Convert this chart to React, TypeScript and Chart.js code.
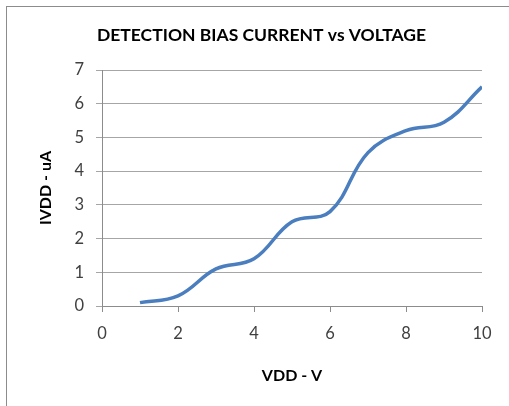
import React, { useEffect, useRef } from "react";
import { Chart, registerables } from "chart.js";

Chart.register(...registerables);

const voltage = [1, 2, 3, 4, 5, 6, 7, 8, 9, 10];
const current = [0.1, 0.3, 1.1, 1.4, 2.5, 2.8, 4.55, 5.2, 5.45, 6.5];
const xTicks = [0, 2, 4, 6, 8, 10];
const yTicks = [0, 1, 2, 3, 4, 5, 6, 7];

const FONT = "Lato, 'Open Sans', sans-serif";

export default function App() {
  const ref = useRef<HTMLCanvasElement>(null);
  useEffect(() => {
    if (!ref.current) return;
    const chart = new Chart(ref.current, {
      type: "line",
      data: {
        datasets: [
          {
            label: "IVDD",
            data: voltage.map((v, i) => ({ x: v, y: current[i] })),
            borderColor: "#4A7EBF",
            borderWidth: 3.5,
            pointRadius: 0,
            tension: 0.4,
            fill: false,
          },
        ],
      },
      options: {
        animation: false,
        responsive: false,
        layout: { padding: { left: 41, right: 27, top: 0, bottom: 0 } },
        plugins: {
          legend: { display: false },
          tooltip: { enabled: false },
          title: {
            display: true,
            text: "DETECTION BIAS CURRENT vs VOLTAGE",
            color: "#000000",
            font: { family: FONT, size: 17.5, weight: "bold" },
            padding: { top: 25, bottom: 24 },
          },
        },
        scales: {
          x: {
            type: "linear",
            min: 0,
            max: 10,
            afterBuildTicks: (s: any) => {
              s.ticks = xTicks.map((v) => ({ value: v }));
            },
            afterFit: (s: any) => {
              s.height = 100;
            },
            ticks: {
              color: "#404040",
              font: { family: FONT, size: 16.5 },
              padding: 12,
            },
            grid: {
              drawOnChartArea: false,
              drawTicks: true,
              tickLength: 6,
              color: "#8c8c8c",
            },
            border: { display: true, color: "#8c8c8c", width: 1 },
            title: {
              display: true,
              text: "VDD - V",
              color: "#000000",
              font: { family: FONT, size: 16, weight: "bold" },
              padding: { top: 0, bottom: 21 },
            },
          },
          y: {
            type: "linear",
            min: 0,
            max: 7,
            afterBuildTicks: (s: any) => {
              s.ticks = yTicks.map((v) => ({ value: v }));
            },
            afterFit: (s: any) => {
              s.width = 61;
            },
            ticks: {
              color: "#404040",
              font: { family: FONT, size: 16.5 },
              padding: 12,
            },
            grid: {
              drawOnChartArea: true,
              drawTicks: true,
              tickLength: 6,
              color: "#a6a6a6",
            },
            border: { display: true, color: "#8c8c8c", width: 1 },
            title: {
              display: true,
              text: "IVDD - uA",
              color: "#000000",
              font: { family: FONT, size: 16, weight: "bold" },
              padding: { top: -5, bottom: 0 },
            },
          },
        },
      },
    });
    return () => chart.destroy();
  }, []);

  return (
    <div
      style={{
        position: "fixed",
        left: 0,
        top: 0,
        width: 509,
        height: 406,
        overflow: "hidden",
        background: "#ffffff",
      }}
    >
      <div
        style={{
          position: "absolute",
          left: 6,
          top: 6,
          width: 540,
          height: 440,
          border: "1.5px solid #8c8c8c",
        }}
      />
      <canvas
        ref={ref}
        width={509}
        height={406}
        style={{ position: "absolute", left: 0, top: 0 }}
      />
    </div>
  );
}
